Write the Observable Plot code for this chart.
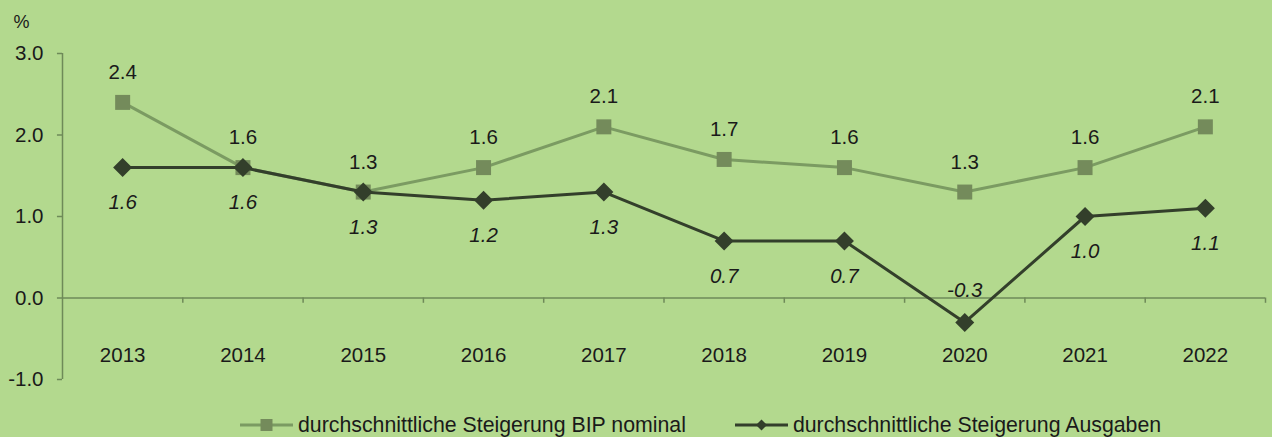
<!DOCTYPE html>
<html><head><meta charset="utf-8">
<script src="https://cdn.jsdelivr.net/npm/d3@7"></script>
<script src="https://cdn.jsdelivr.net/npm/@observablehq/plot@0.6"></script>
<style>
html,body{margin:0;padding:0;background:#b3d98e;}
#wrap{position:relative;width:1272px;height:437px;background:#b3d98e;font-family:"Liberation Sans",Arial,sans-serif;}
#legend{position:absolute;left:240px;top:411px;height:28px;display:flex;align-items:center;font-size:21.3px;color:#1a1a1a;white-space:nowrap;}
.item{display:flex;align-items:center;}
.item + .item{margin-left:49px;}
.item svg{margin-right:5px;}
</style></head>
<body><div id="wrap"><div id="chart"></div><div id="legend"></div></div>
<script>
const years = [2013,2014,2015,2016,2017,2018,2019,2020,2021,2022];
const bip = [2.4,1.6,1.3,1.6,2.1,1.7,1.6,1.3,1.6,2.1];
const ausgaben = [1.6,1.6,1.3,1.2,1.3,0.7,0.7,-0.3,1.0,1.1];
const yTicks = [-1,0,1,2,3];
const seriesNames = ["durchschnittliche Steigerung BIP nominal","durchschnittliche Steigerung Ausgaben"];

const axisCol = "#6e8a58";
const lightLine = "#7b9b62";
const lightMark = "#748b5b";
const darkCol = "#333f2b";
const textCol = "#1a1a1a";
const font = "'Liberation Sans', Arial, sans-serif";
const fs = 20.5;

const dataB = years.map((y,i)=>({year:y, v:bip[i]}));
const dataA = years.map((y,i)=>({year:y, v:ausgaben[i]}));
const bounds = [years[0]-0.5, ...years.map(y=>y+0.5)];

const chart = Plot.plot({
  width: 1272, height: 405,
  marginLeft: 62, marginRight: 7, marginTop: 53, marginBottom: 26,
  style: {fontFamily: font, background: "transparent", color: textCol},
  x: {type: "linear", domain: [years[0]-0.5, years[years.length-1]+0.5], axis: null},
  y: {domain: [-1, 3], axis: null},
  marks: [
    Plot.ruleX([bounds[0]], {y1: -1, y2: 3, stroke: axisCol, strokeWidth: 1.5}),
    Plot.ruleY(yTicks, {x1: bounds[0]-0.042, x2: bounds[0], stroke: axisCol, strokeWidth: 1.5}),
    Plot.ruleY([0], {stroke: axisCol, strokeWidth: 1.5}),
    Plot.ruleX(bounds.slice(1), {y1: 0, y2: -0.065, stroke: axisCol, strokeWidth: 1.5}),
    Plot.text(yTicks, {x: bounds[0], y: d=>d, text: d=>d.toFixed(1), dx: -19, textAnchor: "end", fontSize: fs, fill: textCol}),
    Plot.text(["%"], {frameAnchor: "top-left", dx: -49, dy: -31, textAnchor: "start", lineAnchor: "middle", fontSize: 18, fill: textCol}),
    Plot.text(years, {x: d=>d, y: 0, dy: 57, text: d=>String(d), fontSize: fs, fill: textCol}),
    Plot.line(dataB, {x: "year", y: "v", stroke: lightLine, strokeWidth: 3}),
    Plot.dot(dataB, {x: "year", y: "v", symbol: "square", r: 8.46, fill: lightMark, stroke: "none"}),
    Plot.line(dataA, {x: "year", y: "v", stroke: darkCol, strokeWidth: 3}),
    Plot.dot(dataA, {x: "year", y: "v", symbol: "diamond2", r: 8.56, fill: darkCol, stroke: "none"}),
    Plot.text(dataB, {x: "year", y: "v", text: d=>d.v.toFixed(1), dy: -30, fontSize: fs, fill: textCol}),
    Plot.text(dataA.filter(d=>d.v>=0), {x: "year", y: "v", text: d=>d.v.toFixed(1), dy: 35, fontSize: fs, fontStyle: "italic", fill: textCol}),
    Plot.text(dataA.filter(d=>d.v<0), {x: "year", y: "v", text: d=>d.v.toFixed(1), dy: -32, fontSize: fs, fontStyle: "italic", fill: textCol})
  ]
});
document.getElementById("chart").appendChild(chart);

const leg = document.getElementById("legend");
function swatch(color, lineColor, kind){
  const s = kind === "square"
    ? `<rect x="20.5" y="8" width="12" height="12" fill="${color}"/>`
    : `<path d="M26.5 8.5 L32 14 L26.5 19.5 L21 14 Z" fill="${color}"/>`;
  return `<svg width="53" height="28"><line x1="0" x2="53" y1="14" y2="14" stroke="${lineColor}" stroke-width="3"/>${s}</svg>`;
}
leg.innerHTML = `<div class="item">${swatch(lightMark, lightLine, "square")}<span>${seriesNames[0]}</span></div>` +
  `<div class="item">${swatch(darkCol, darkCol, "diamond")}<span>${seriesNames[1]}</span></div>`;
</script>
</body></html>
